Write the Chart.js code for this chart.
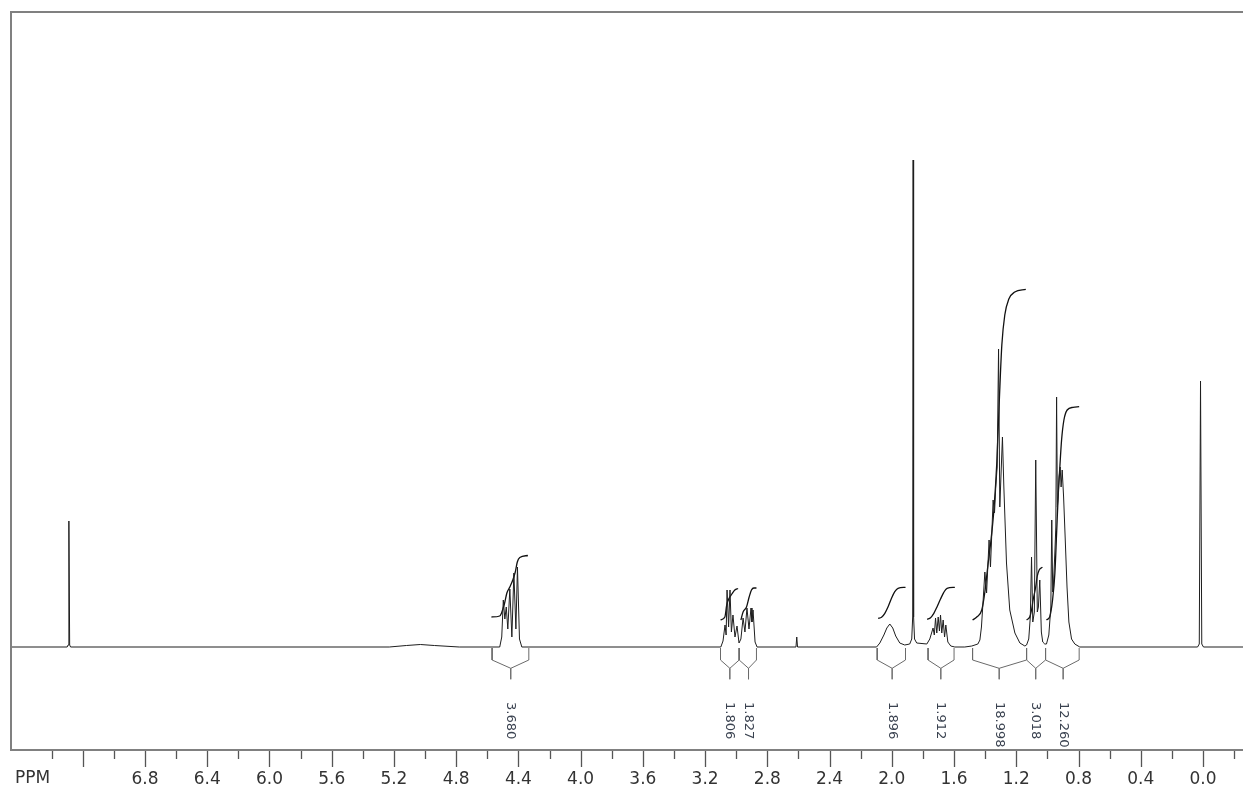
<!DOCTYPE html>
<html><head><meta charset="utf-8">
<script src="https://cdn.jsdelivr.net/npm/chart.js@4.4.1/dist/chart.umd.min.js"></script>
<style>html,body{margin:0;padding:0;background:#fff;}#wrap{width:1243px;height:793px;}</style>
</head><body><div id="wrap"><canvas id="c" width="1243" height="793"></canvas></div>
<script>
// ---- spectrum (chemical shift in ppm, intensity in arbitrary units) ----
const specPpm = [7.661,7.300,7.294,7.289,7.284,7.278,
 5.230,5.120,5.030,4.940,4.780,
 4.520,4.507,4.497,4.487,4.478,4.468,4.455,4.442,4.429,4.416,4.406,4.393,4.378,
 3.099,3.085,3.072,3.065,3.059,3.049,3.040,3.031,3.021,3.008,2.995,2.982,
 2.970,2.956,2.944,2.931,2.918,2.905,2.899,2.892,2.879,2.866,
 2.616,2.611,2.606,
 2.098,2.077,2.051,2.032,2.013,1.994,1.975,1.949,1.917,1.885,1.872,1.866,1.863,1.860,1.854,1.840,
 1.775,1.756,1.735,1.727,1.719,1.711,1.702,1.694,1.687,1.679,1.670,1.661,1.653,1.640,1.621,1.595,
 1.531,1.486,1.447,1.434,1.424,1.413,1.402,1.391,1.375,1.366,1.349,1.340,1.332,1.323,1.314,1.306,1.289,1.280,1.263,1.242,1.209,1.177,1.145,
 1.134,1.120,1.110,1.102,1.094,1.084,1.075,1.065,1.058,1.049,1.039,1.030,1.017,
 1.006,0.991,0.978,0.972,0.966,0.962,0.952,0.946,0.941,0.936,0.931,0.925,0.918,0.912,0.905,0.896,0.886,0.874,0.862,0.845,0.824,0.792,
 0.035,0.024,0.016,0.008,-0.003,-0.257];
const specInt = [0,0,2,126,2,0,
 0,1.5,2.5,1.5,0,
 0,10,47,28,40,18,58,10,74,18,80,8,0,
 0,6,22,12,57,20,57,15,32,10,21,4,
 8,29,15,39,18,39,25,37,5,0,
 0,10,0,
 0,4,12,19,23,19,11,4,2,3,8,30,487,30,8,4,
 3,8,19,12,29,14,30,16,32,14,27,10,22,5,1,0,
 0,1,3,7,20,47,75,54,107,80,147,134,160,180,298,140,210,160,84,37,14,4,1,
 2,8,30,90,25,35,187,35,40,67,15,5,3,
 3,12,40,127,55,60,95,120,250,140,150,170,180,160,177,150,110,60,25,8,3,0,
 0,3,266,3,0,0];

// ---- integral curves (ppm, cumulative height) ----
const integralPpm = [
 [4.573,4.520,4.490,4.474,4.455,4.436,4.420,4.407,4.391,4.339],
 [3.101,3.073,3.061,3.048,3.028,3.009,2.988],
 [2.970,2.956,2.934,2.917,2.902,2.887,2.870],
 [2.088,2.066,2.045,2.024,2.002,1.981,1.960,1.912],
 [1.773,1.751,1.730,1.709,1.687,1.666,1.645,1.595],
 [1.481,1.454,1.422,1.402,1.383,1.364,1.344,1.325,1.309,1.293,1.274,1.248,1.210,1.139],
 [1.134,1.113,1.102,1.092,1.075,1.066,1.053,1.032],
 [1.006,0.985,0.967,0.952,0.941,0.931,0.920,0.909,0.894,0.873,0.835,0.796]
];
const integralHeight = [
 [30,31,43,54,60,67,75,85,89.5,91.5],
 [27,30,42,48,53,57,58.5],
 [27,35,40,50,57,59,59],
 [28.7,29.7,33.7,40.3,48.7,55.3,58.7,59.7],
 [27.7,29.3,33.7,40.3,48,54.7,58.7,59.7],
 [27,30,37,55,81,105,137,185,247,302,332,348,355,357.7],
 [27,30.3,37,47,60.3,70.3,77,79.7],
 [27,30.3,47,73.7,113.7,150.3,180.3,207,227,237,239.7,240.3]
];
const integralLabels = ['3.680','1.806','1.827','1.896','1.912','18.998','3.018','12.260'];
const bracketLeft   = [4.569,3.101,2.981,2.094,1.767,1.481,1.134,1.012];
const bracketCenter = [4.449,3.041,2.921,1.998,1.685,1.310,1.075,0.899];
const bracketRight  = [4.333,2.981,2.870,1.912,1.600,1.134,1.012,0.796];

// ---- axis ----
const tickValues = [7.4,7.2,7.0,6.8,6.6,6.4,6.2,6.0,5.8,5.6,5.4,5.2,5.0,4.8,4.6,4.4,4.2,4.0,3.8,3.6,3.4,3.2,3.0,2.8,2.6,2.4,2.2,2.0,1.8,1.6,1.4,1.2,1.0,0.8,0.6,0.4,0.2,0.0,-0.2];
const tickLabels = ['','','','6.8','','6.4','','6.0','','5.6','','5.2','','4.8','','4.4','','4.0','','3.6','','3.2','','2.8','','2.4','','2.0','','1.6','','1.2','','0.8','','0.4','','0.0',''];
const axisTitle = 'PPM';

const FRAME = '#808080';
const datasets = [];
datasets.push({data: specPpm.map((p,i)=>({x:p,y:specInt[i]})), borderColor:'#1e1e1e', borderWidth:1, pointRadius:0, tension:0, fill:false});
integralPpm.forEach((arr,k)=>{
  datasets.push({data: arr.map((p,i)=>({x:p,y:integralHeight[k][i]})), borderColor:'#111', borderWidth:1.3, pointRadius:0, cubicInterpolationMode:'monotone', fill:false});
});
bracketLeft.forEach((l,k)=>{
  const c = bracketCenter[k], r = bracketRight[k];
  datasets.push({data:[{x:l,y:-1},{x:l,y:-13},{x:c,y:-21.3},{x:c,y:-32.3},{x:c,y:-21.3},{x:r,y:-13},{x:r,y:-1}], borderColor:'#6a6a6a', borderWidth:1, pointRadius:0, tension:0, fill:false});
});

const decor = {
  id:'decor',
  afterDraw(chart){
    const {ctx, chartArea:a, scales:{x,y}} = chart;
    ctx.save();
    ctx.strokeStyle = FRAME; ctx.lineWidth = 2;
    ctx.beginPath(); ctx.moveTo(a.left, a.bottom); ctx.lineTo(a.left, a.top); ctx.lineTo(chart.width, a.top); ctx.stroke();
    ctx.lineWidth = 1.3; ctx.strokeStyle = '#555';
    tickValues.forEach(v=>{
      const px = Math.round(x.getPixelForValue(v)) + 0.5;
      const major = Math.abs(Math.round(v/0.4)*0.4 - v) < 1e-6;
      ctx.beginPath(); ctx.moveTo(px, a.bottom + 1); ctx.lineTo(px, a.bottom + (major ? 17 : 9)); ctx.stroke();
    });
    ctx.fillStyle = '#333'; ctx.font = '17px "DejaVu Sans"'; ctx.textAlign = 'left'; ctx.textBaseline = 'middle';
    ctx.fillText(axisTitle, a.left + 4, a.bottom + 29);
    ctx.font = '13px "DejaVu Sans"'; ctx.fillStyle = '#3a4250';
    integralLabels.forEach((t,k)=>{
      const px = x.getPixelForValue(bracketCenter[k]);
      const py = y.getPixelForValue(-55);
      ctx.save(); ctx.translate(px, py); ctx.rotate(Math.PI/2);
      ctx.textAlign = 'left'; ctx.textBaseline = 'middle';
      ctx.fillText(t, 0, 0); ctx.restore();
    });
    ctx.restore();
  }
};

new Chart(document.getElementById('c'), {
  type:'line',
  data:{datasets},
  options:{
    responsive:false, animation:false, devicePixelRatio:1,
    layout:{padding:{left:11, top:12, right:0, bottom:0}},
    plugins:{legend:{display:false}, tooltip:{enabled:false}},
    scales:{
      x:{type:'linear', reverse:true, min:-0.257, max:7.661,
        afterBuildTicks: s => { s.ticks = tickValues.map(v=>({value:v})); },
        afterFit: s => { s.height = 43; s.paddingLeft = 0; s.paddingRight = 0; },
        ticks:{autoSkip:false, maxRotation:0, color:'#333', padding:19,
          font:{family:'DejaVu Sans', size:17},
          callback:(v,i)=>tickLabels[i]},
        grid:{drawOnChartArea:false, drawTicks:false},
        border:{display:true, color:FRAME, width:2}
      },
      y:{display:false, min:-103, max:635}
    }
  },
  plugins:[decor]
});
</script></body></html>
